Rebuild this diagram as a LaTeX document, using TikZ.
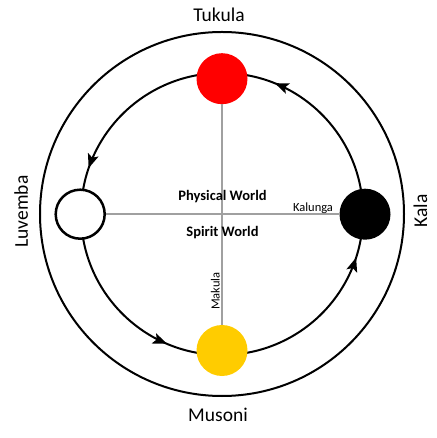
\documentclass[tikz,border=0pt]{standalone}
\usepackage{fontspec}
\setmainfont{Carlito}
\usepackage{tikz}
\usetikzlibrary{arrows.meta,decorations.markings}
\definecolor{TukulaRed}{HTML}{FF0000}
\definecolor{MusoniYellow}{HTML}{FFCC00}
\definecolor{AxisGray}{HTML}{A0A0A0}

\begin{document}
\begin{tikzpicture}[
  x=1pt,y=1pt,
  stage/.style={circle,minimum size=51pt,inner sep=0pt},
  ring/.style={line width=2pt},
  axis/.style={draw=AxisGray,line width=1.5pt},
  season/.style={font=\fontsize{19.5}{20}\selectfont,anchor=base,inner sep=0pt},
  border/.style={font=\fontsize{12.5}{13}\selectfont,anchor=base,inner sep=0pt},
  world/.style={font=\bfseries\fontsize{14.5}{15}\selectfont,anchor=base,inner sep=0pt},
  cycle marks/.style={postaction={decorate},decoration={markings,
    mark=at position 0.1889 with {\arrow{Stealth[length=14pt,width=11pt,inset=3pt]}},
    mark=at position 0.4472 with {\arrow{Stealth[length=14pt,width=11pt,inset=3pt]}},
    mark=at position 0.6861 with {\arrow{Stealth[length=14pt,width=11pt,inset=3pt]}},
    mark=at position 0.9500 with {\arrow{Stealth[length=14pt,width=11pt,inset=3pt]}}}}
]
\useasboundingbox (-222,-224) rectangle (214,214);
\coordinate (c) at (0,0);

% --- outer circle and the cycle ---
\draw[ring] (c) circle[radius=182];
\draw[ring,cycle marks] (c) circle[radius=141];

% --- the four stages ---
\node[stage,fill=TukulaRed] (tukula) at (0,135.3) {};
\node[stage,fill=MusoniYellow] (musoni) at (0,-136.5) {};
\node[stage,fill=white,draw=black,line width=2.5pt,minimum size=49pt] (luvemba) at (-141.8,-0.2) {};
\node[stage,fill=black] (kala) at (143,-0.2) {};

% --- the two axes ---
\draw[axis] (tukula) -- (musoni);
\draw[axis] (luvemba) -- (kala);

% --- labels ---
\node[season] (tukulaLbl) at (-3,192.5) {Tukula};
\node[season] (musoniLbl) at (-4,-207) {Musoni};
\node[season,rotate=90] (luvembaLbl) at (-194,2.5) {Luvemba};
\node[season,rotate=90] (kalaLbl) at (205,3) {Kala};
\node[border] (kalungaLbl) at (91,2.5) {Kalunga};
\node[border,rotate=90] (makulaLbl) at (-2.5,-77) {Makula};
\node[world] (physLbl) at (0.5,13.3) {Physical World};
\node[world] (spiritLbl) at (0.5,-22.7) {Spirit World};
\end{tikzpicture}
\end{document}
